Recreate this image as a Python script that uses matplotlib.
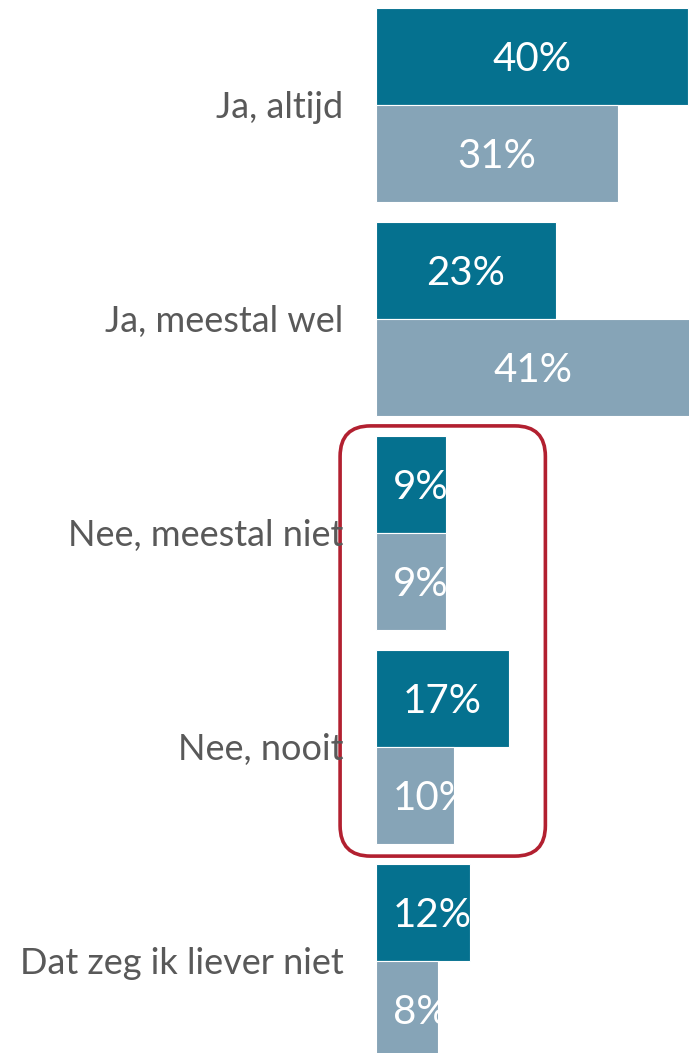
import matplotlib
matplotlib.use('Agg')
import matplotlib.pyplot as plt
import matplotlib.transforms as mtransforms
from matplotlib.patches import FancyBboxPatch

# data
categories = ['Ja, altijd', 'Ja, meestal wel', 'Nee, meestal niet', 'Nee, nooit', 'Dat zeg ik liever niet']
serie_1 = [40, 23, 9, 17, 12]
serie_2 = [31, 41, 9, 10, 8]

c1 = '#05718F'
c2 = '#86A4B7'
h = 0.453
xmax = 40.1

plt.rcParams['font.family'] = ['Lato', 'DejaVu Sans']

fig = plt.figure(figsize=(6.89, 10.53), dpi=100)
ax = fig.add_axes([376 / 689, 0, 313 / 689, 1])

y = list(range(len(categories)))
bars1 = ax.barh([v - h / 2 for v in y], serie_1, height=h, color=c1, edgecolor='white', linewidth=0.8)
bars2 = ax.barh([v + h / 2 for v in y], serie_2, height=h, color=c2, edgecolor='white', linewidth=0.8)

ax.set_xlim(0, xmax)
ax.set_ylim(4.43, -0.49)

# waardes in de balken, afgekapt op de balk
fig.canvas.draw()
r = fig.canvas.get_renderer()
inv = ax.transData.inverted()
pad = 2.2
offs = ax.transData + mtransforms.ScaledTranslation(0, -3 / 100, fig.dpi_scale_trans)
for bars, vals in [(bars1, serie_1), (bars2, serie_2)]:
    for b, v in zip(bars, vals):
        yc = b.get_y() + b.get_height() / 2
        xc = min(v, xmax) / 2
        t = ax.text(xc, yc, f'{v}%', color='white', fontsize=29,
                    ha='center', va='center', transform=offs)
        bb = t.get_window_extent(r)
        w = inv.transform((bb.x1, 0))[0] - inv.transform((bb.x0, 0))[0]
        if xc - w / 2 < pad:
            t.set_x(pad)
            t.set_ha('left')
        t.set_clip_path(b)

ax.set_yticks(y)
ax.set_yticklabels(categories, fontsize=26, color='#595959')
ax.tick_params(axis='y', length=0, pad=23.5)
ax.set_xticks([])
for s in ax.spines.values():
    s.set_visible(False)

# rode kader rond de "nee" antwoorden
asp = (1 / 214) / (1 / (313 / xmax))
box = FancyBboxPatch((-4.6, 1.5), 26.3, 2.01, boxstyle='round,pad=0,rounding_size=3.9',
                     mutation_aspect=asp, fill=False, edgecolor='#B22030', linewidth=2.6,
                     clip_on=False)
ax.add_patch(box)

fig.savefig('out.png', dpi=100)
